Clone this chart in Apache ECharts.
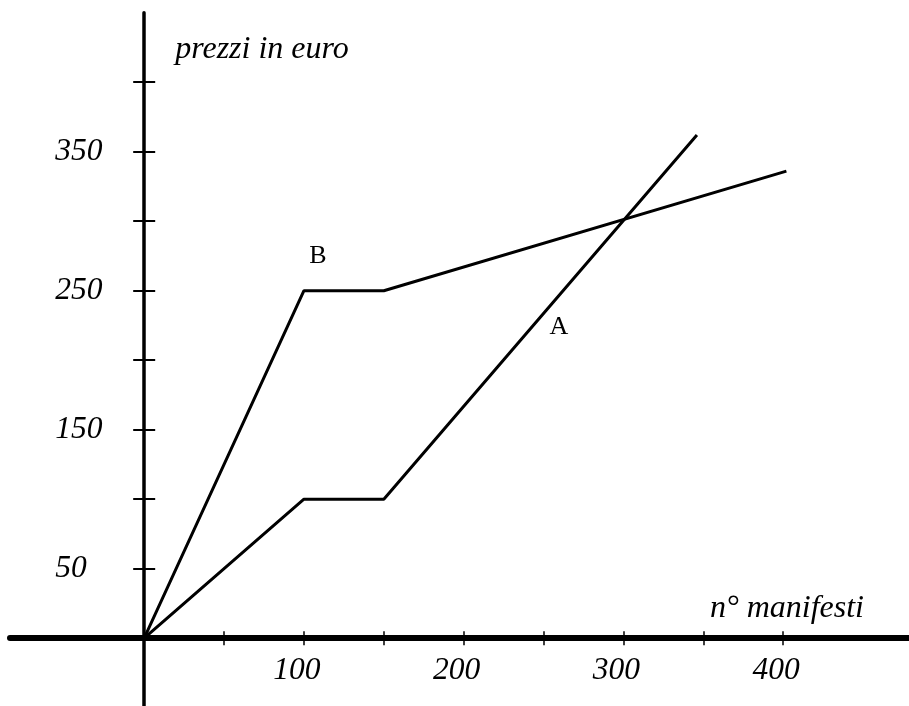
<!DOCTYPE html>
<html>
<head>
<meta charset="utf-8">
<script src="https://cdn.jsdelivr.net/npm/echarts@6/dist/echarts.min.js"></script>
<style>
html,body{margin:0;padding:0;background:#fff;}
#chart{width:909px;height:706px;}
</style>
</head>
<body>
<div id="chart"></div>
<script>
// ---- data ----
const seriesA = [[0, 0], [100, 100], [150, 100], [346, 362]];
const seriesB = [[0, 0], [100, 250], [150, 250], [402, 336]];
const xTicks = [50, 100, 150, 200, 250, 300, 350, 400];
const xLabels = [100, 200, 300, 400];
const yTicks = [50, 100, 150, 200, 250, 300, 350, 400];
const yLabels = [50, 150, 250, 350];
const xRange = [-84, 480];
const yRange = [-50, 450];
const labelA = [259.6, 224];
const labelB = [108.7, 275];
const xName = 'n° manifesti';
const yName = 'prezzi in euro';

const FONT = '"Liberation Serif", "Times New Roman", serif';
const W = 909, H = 706;
const GRID = { left: 10, right: -2, top: 12.7, bottom: -1.7 };
const gridW = W - GRID.left - GRID.right;
const gridH = H - GRID.top - GRID.bottom;
// place axes through the zero of the other axis (axis offset from grid edge)
const yAxisOffset = -((0 - xRange[0]) / (xRange[1] - xRange[0])) * gridW;
const xAxisOffset = -((0 - yRange[0]) / (yRange[1] - yRange[0])) * gridH;

const chart = echarts.init(document.getElementById('chart'));

function xAxisDef(inside, main) {
  return {
    type: 'value', min: xRange[0], max: xRange[1], position: 'bottom', offset: xAxisOffset,
    axisLine: { show: main, onZero: false, lineStyle: { color: '#000', width: 6 } },
    axisTick: { show: true, inside: inside, length: 7, customValues: xTicks,
      lineStyle: { color: '#000', width: 1.5 } },
    axisLabel: { show: main, customValues: xLabels, margin: 17, color: '#000',
      fontFamily: FONT, fontStyle: 'italic', fontSize: 31.5, padding: [0, 14, 0, 0] },
    splitLine: { show: false },
    name: main ? xName : '', nameLocation: 'end', nameGap: -47,
    nameTextStyle: { fontFamily: FONT, fontStyle: 'italic', fontSize: 32, color: '#000',
      align: 'right', verticalAlign: 'bottom', lineHeight: 32, padding: [0, 0, 14, 0] }
  };
}
function yAxisDef(inside, main) {
  return {
    type: 'value', min: yRange[0], max: yRange[1], position: 'left', offset: yAxisOffset,
    axisLine: { show: main, onZero: false, lineStyle: { color: '#000', width: 3.5 } },
    axisTick: { show: true, inside: inside, length: 11, customValues: yTicks,
      lineStyle: { color: '#000', width: 2 } },
    axisLabel: { show: main, customValues: yLabels, margin: 89, align: 'left', color: '#000',
      fontFamily: FONT, fontStyle: 'italic', fontSize: 31.5 },
    splitLine: { show: false },
    name: main ? yName : '', nameLocation: 'end', nameGap: -37,
    nameTextStyle: { fontFamily: FONT, fontStyle: 'italic', fontSize: 32, color: '#000',
      align: 'left', verticalAlign: 'middle', padding: [0, 0, 0, 31] }
  };
}

function letterMark(coord, text) {
  return {
    symbol: 'rect', symbolSize: 1, silent: true,
    itemStyle: { color: 'rgba(0,0,0,0)' },
    label: { show: true, position: 'inside', formatter: text, color: '#000',
      fontFamily: FONT, fontSize: 26 },
    data: [{ coord: coord, value: text }]
  };
}

chart.setOption({
  animation: false,
  backgroundColor: '#fff',
  grid: { left: GRID.left, right: GRID.right, top: GRID.top, bottom: GRID.bottom,
    containLabel: false, outerBoundsMode: 'none' },
  xAxis: [xAxisDef(false, true), xAxisDef(true, false)],
  yAxis: [yAxisDef(false, true), yAxisDef(true, false)],
  series: [
    { name: 'A', type: 'line', data: seriesA, xAxisIndex: 0, yAxisIndex: 0,
      symbol: 'none', lineStyle: { color: '#000', width: 3 },
      markPoint: letterMark(labelA, 'A') },
    { name: 'B', type: 'line', data: seriesB, xAxisIndex: 0, yAxisIndex: 0,
      symbol: 'none', lineStyle: { color: '#000', width: 3 },
      markPoint: letterMark(labelB, 'B') }
  ]
});
</script>
</body>
</html>
